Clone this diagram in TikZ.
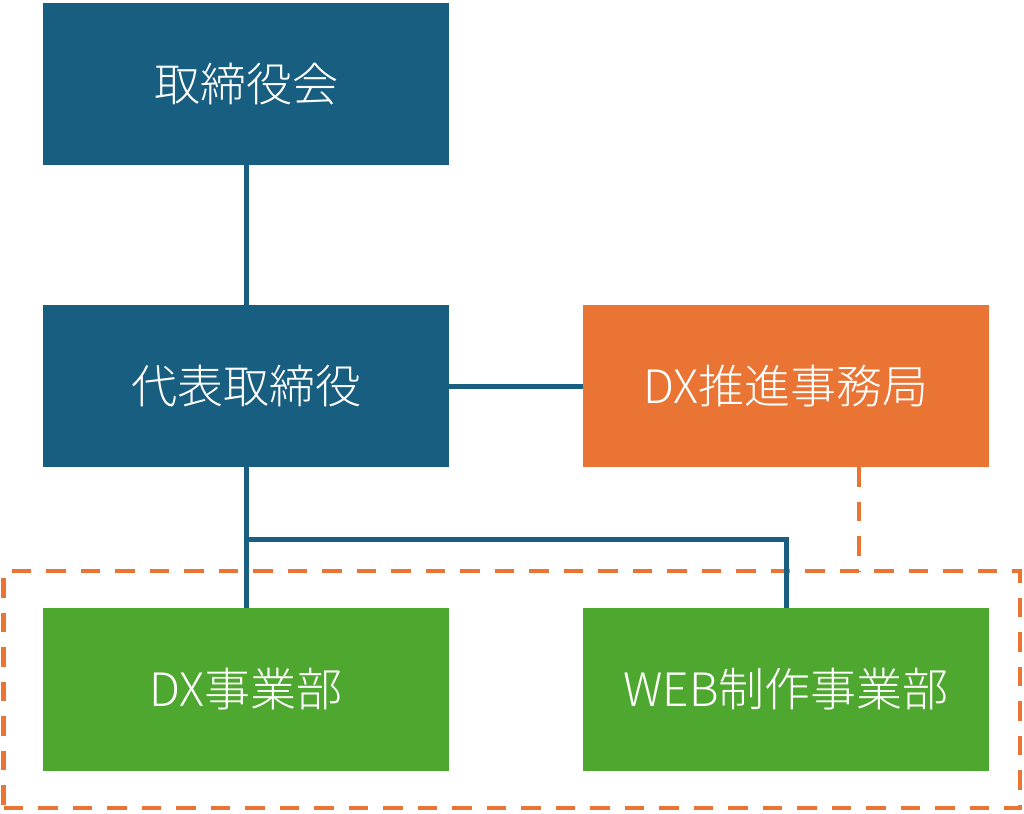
\documentclass[tikz,border=0pt]{standalone}
\usepackage{fontspec}
\newfontfamily\cjk{Noto Sans CJK JP Light}
\definecolor{cblue}{HTML}{175E80}
\definecolor{corange}{HTML}{EA7434}
\definecolor{cgreen}{HTML}{4EA72E}
\begin{document}
\begin{tikzpicture}[x=1pt,y=-1pt,
  box/.style={minimum width=406pt, minimum height=162pt, inner sep=0pt, text=white, font=\cjk\fontsize{46}{52}\selectfont},
  bluebox/.style={box, fill=cblue},
  orangebox/.style={box, fill=corange},
  greenbox/.style={box, fill=cgreen, minimum height=163pt},
  link/.style={draw=cblue, line width=5pt},
  dlink/.style={draw=corange, line width=4.5pt, dash pattern=on 19.5pt off 15pt}
]
\useasboundingbox (0,0) rectangle (1024,813);
\node[bluebox] (b1) at (246,84) {取締役会};
\node[bluebox] (b2) at (246,386) {代表取締役};
\node[orangebox] (b3) at (786,386) {DX推進事務局};
\node[greenbox] (b4) at (246,689.5) {DX事業部};
\node[greenbox] (b5) at (786,689.5) {WEB制作事業部};
\node[dlink, minimum width=1016.5pt, minimum height=237pt, inner sep=0pt] (grp) at (511.75,689.5) {};
\draw[link] (b1.south) -- (b2.north);
\draw[link] (b2.east) -- (b3.west);
\draw[link] (b2.south) -- (b4.north);
\coordinate (j) at (246,539);
\draw[link] (j) -| (b5.north);
\coordinate (d) at (859,571);
\draw[dlink] (b3.south -| d) -- (d);
\end{tikzpicture}
\end{document}
